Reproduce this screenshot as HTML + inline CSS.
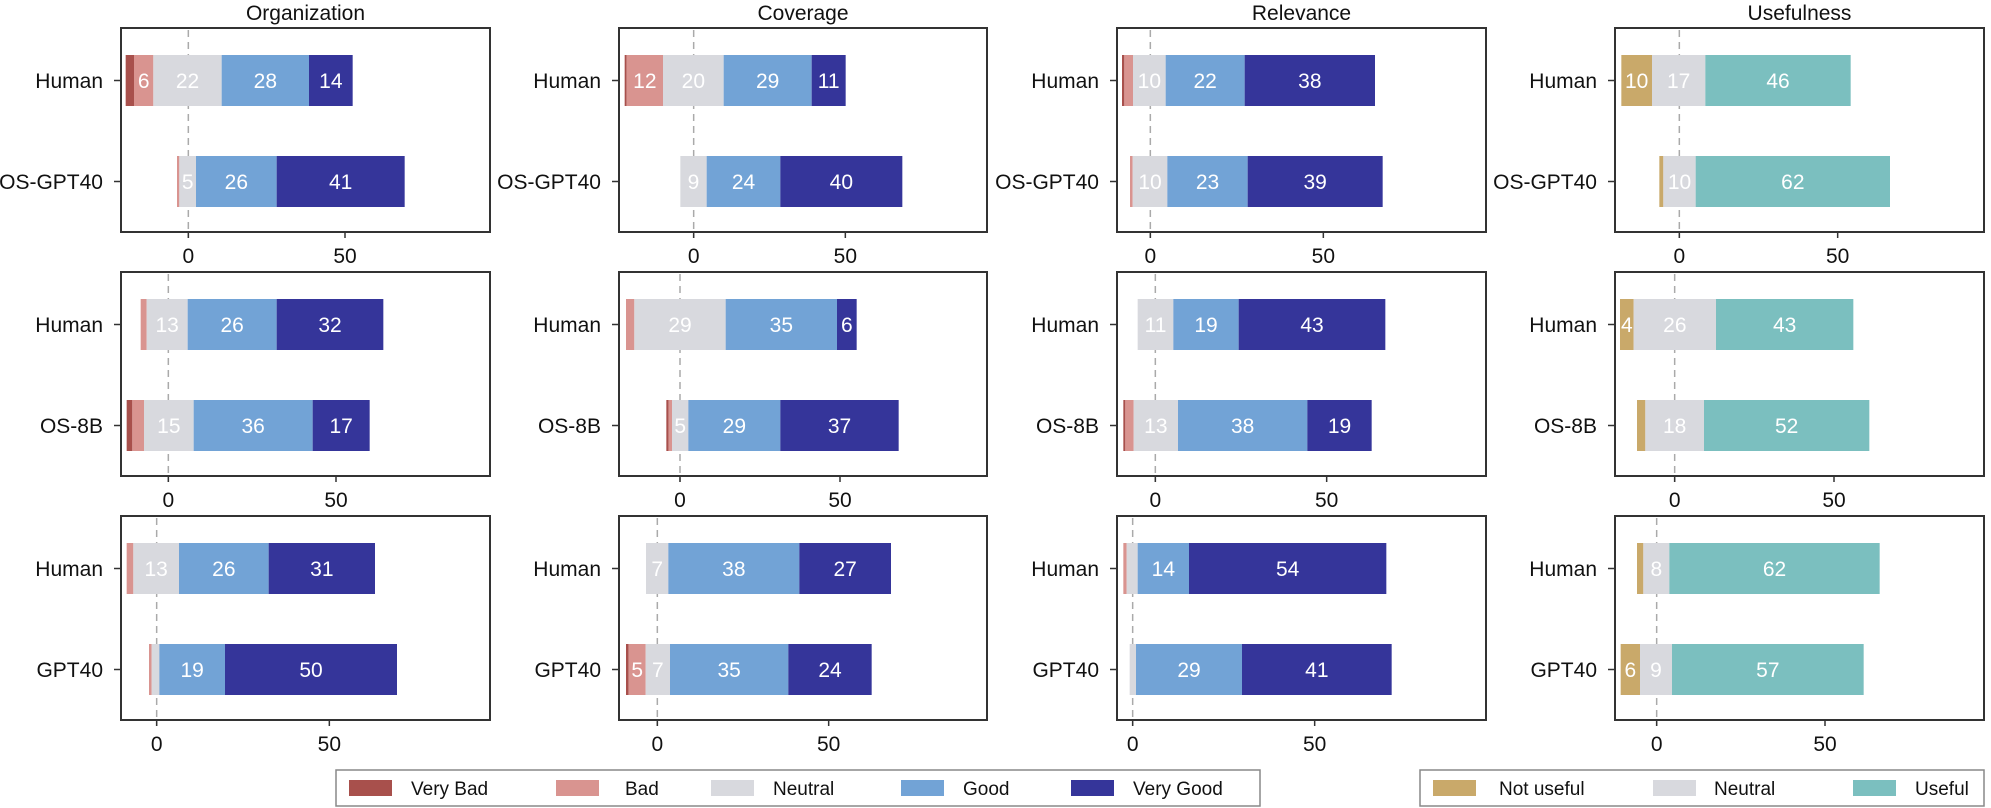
<!DOCTYPE html>
<html><head><meta charset="utf-8"><style>
html,body{margin:0;padding:0;background:#fff}
svg{display:block;font-family:"Liberation Sans",Arial,sans-serif}
</style></head><body>
<svg id="s" width="1991" height="808" xmlns="http://www.w3.org/2000/svg"></svg>
<script>
const C={VB:'#a8504c',B:'#d99490',N:'#d8d9de',G:'#72a3d6',V:'#35359a',NU:'#c9a96a',U:'#7bbfbf'};
const cols=[
 {off:100,x0:121,x1:490,title:'Organization',rows:[
  {z:265,f:735,bars:[[[77,102,'VB'],[102,160,'B','6'],[160,365,'N','22'],[365,627,'G','28'],[627,758,'V','14']],
                     [[231,238,'B'],[238,288,'N','5'],[288,530,'G','26'],[530,914,'V','41']]]},
  {z:205,f:708,bars:[[[122,140,'B'],[140,263,'N','13'],[263,530,'G','26'],[530,850,'V','32']],
                     [[80,97,'VB'],[97,132,'B'],[132,281,'N','15'],[281,638,'G','36'],[638,809,'V','17']]]},
  {z:170,f:688,bars:[[[80,100,'B'],[100,237,'N','13'],[237,506,'G','26'],[506,825,'V','31']],
                     [[147,155,'B'],[155,178,'N'],[178,375,'G','19'],[375,891,'V','50']]]}]},
 {off:590,x0:619,x1:987,title:'Coverage',rows:[
  {z:311,f:766,bars:[[[104,110,'VB'],[110,219,'B','12'],[219,401,'N','20'],[401,665,'G','29'],[665,767,'V','11']],
                     [[271,350,'N','9'],[350,571,'G','24'],[571,937,'V','40']]]},
  {z:270,f:750,bars:[[[108,133,'B'],[133,407,'N','29'],[407,741,'G','35'],[741,800,'V','6']],
                     [[229,236,'VB'],[236,246,'B'],[246,295,'N','5'],[295,571,'G','29'],[571,926,'V','37']]]},
  {z:202,f:716,bars:[[[168,235,'N','7'],[235,628,'G','38'],[628,903,'V','27']],
                     [[108,116,'VB'],[116,167,'B','5'],[167,240,'N','7'],[240,595,'G','35'],[595,845,'V','24']]]}]},
 {off:1090,x0:1117,x1:1486,title:'Relevance',rows:[
  {z:181,f:700,bars:[[[96,103,'VB'],[103,129,'B'],[129,227,'N','10'],[227,464,'G','22'],[464,855,'V','38']],
                     [[120,128,'B'],[128,232,'N','10'],[232,473,'G','23'],[473,878,'V','39']]]},
  {z:196,f:710,bars:[[[143,250,'N','11'],[250,446,'G','19'],[446,886,'V','43']],
                     [[100,106,'VB'],[106,131,'B'],[131,264,'N','13'],[264,652,'G','38'],[652,845,'V','19']]]},
  {z:128,f:674,bars:[[[100,110,'B'],[110,143,'N'],[143,297,'G','14'],[297,889,'V','54']],
                     [[119,138,'N'],[138,456,'G','29'],[456,905,'V','41']]]}]},
 {off:1590,x0:1615,x1:1984,title:'Usefulness',rows:[
  {z:268,f:743,bars:[[[94,186,'NU','10'],[186,346,'N','17'],[346,782,'U','46']],
                     [[208,220,'NU'],[220,317,'N','10'],[317,900,'U','62']]]},
  {z:254,f:732,bars:[[[90,131,'NU','4'],[131,378,'N','26'],[378,790,'U','43']],
                     [[141,166,'NU'],[166,342,'N','18'],[342,838,'U','52']]]},
  {z:200,f:705,bars:[[[141,160,'NU'],[160,238,'N','8'],[238,869,'U','62']],
                     [[92,150,'NU','6'],[150,246,'N','9'],[246,821,'U','57']]]}]}
];
const rowTops=[28,272,516], H=204;
const names=[['Human','OS-GPT40'],['Human','OS-8B'],['Human','GPT40']];
let o='';
cols.forEach(c=>{
 const cx=(c.x0+c.x1)/2;
 o+=`<text x="${cx}" y="20" font-size="21" text-anchor="middle" fill="#111">${c.title}</text>`;
 c.rows.forEach((r,ri)=>{
  const t=rowTops[ri], b=t+H;
  const X=z=>c.off+z/3;
  const zx=X(r.z), fx=X(r.f);
  o+=`<line x1="${zx}" x2="${zx}" y1="${t+2}" y2="${b+6}" stroke="#aaa" stroke-width="1.5" stroke-dasharray="7,5"/>`;
  r.bars.forEach((bar,bi)=>{
   const by=t+27+bi*101, bh=51, cy=by+bh/2;
   bar.forEach(s=>{
    const a=X(s[0]), e=X(s[1]);
    o+=`<rect x="${a}" y="${by}" width="${e-a}" height="${bh}" fill="${C[s[2]]}"/>`;
    if(s[3]) o+=`<text x="${(a+e)/2}" y="${cy+7.5}" font-size="21" fill="#fff" text-anchor="middle">${s[3]}</text>`;
   });
   o+=`<line x1="${c.x0-7}" x2="${c.x0}" y1="${cy}" y2="${cy}" stroke="#333" stroke-width="1.5"/>`;
   o+=`<text x="${c.x0-18}" y="${cy+7.5}" font-size="21" text-anchor="end" fill="#111">${names[ri][bi]}</text>`;
  });
  o+=`<rect x="${c.x0}" y="${t}" width="${c.x1-c.x0}" height="${H}" fill="none" stroke="#333" stroke-width="2"/>`;
  [[zx,'0'],[fx,'50']].forEach(([x,l])=>{
   o+=`<line x1="${x}" x2="${x}" y1="${b}" y2="${b+6}" stroke="#333" stroke-width="1.5"/>`;
   o+=`<text x="${x}" y="${b+31}" font-size="21" text-anchor="middle" fill="#111">${l}</text>`;
  });
 });
});
o+=`<rect x="336" y="770" width="924" height="36" fill="#fff" stroke="#888" stroke-width="1.5"/>`;
[[349,411,'VB','Very Bad'],[556,625,'B','Bad'],[711,773,'N','Neutral'],[901,963,'G','Good'],[1071,1133,'V','Very Good']].forEach(([sx,tx,k,l])=>{
 o+=`<rect x="${sx}" y="780" width="43" height="16" fill="${C[k]}"/><text x="${tx}" y="795" font-size="19" fill="#111">${l}</text>`;
});
o+=`<rect x="1420" y="770" width="564" height="36" fill="#fff" stroke="#888" stroke-width="1.5"/>`;
[[1433,1499,'NU','Not useful'],[1653,1714,'N','Neutral'],[1853,1915,'U','Useful']].forEach(([sx,tx,k,l])=>{
 o+=`<rect x="${sx}" y="780" width="43" height="16" fill="${C[k]}"/><text x="${tx}" y="795" font-size="19" fill="#111">${l}</text>`;
});
document.getElementById('s').innerHTML=o;
</script>
</body></html>
